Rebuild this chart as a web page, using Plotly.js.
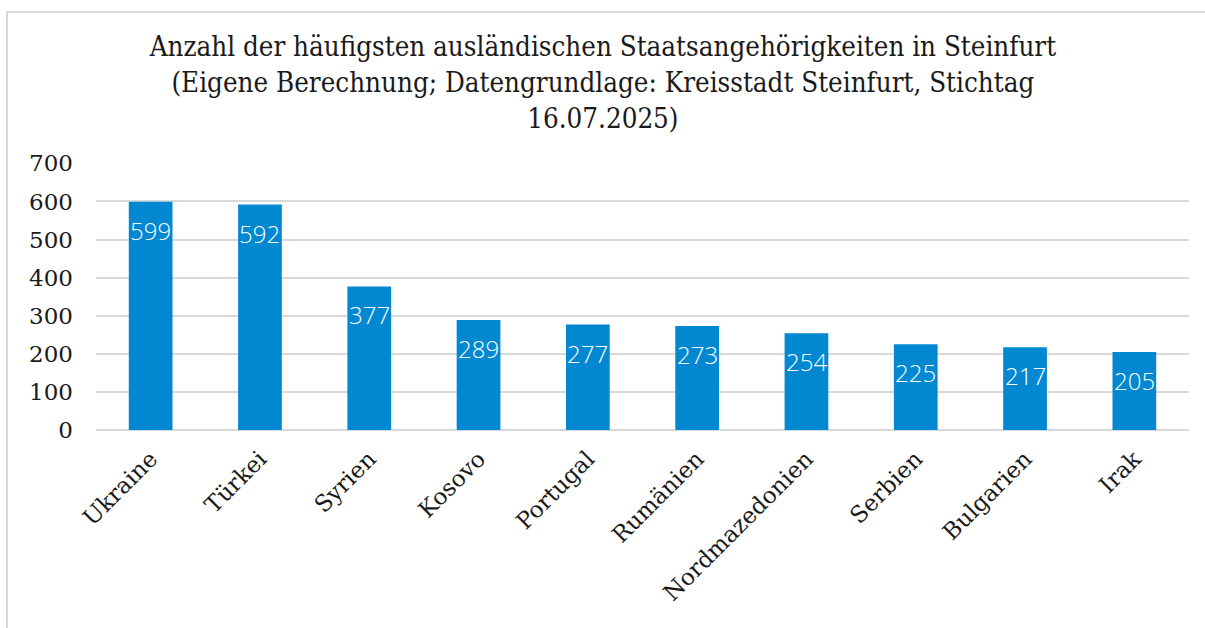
<!DOCTYPE html>
<html><head><meta charset="utf-8">
<script src="https://cdn.plot.ly/plotly-3.0.1.min.js"></script>
<style>
html,body{margin:0;padding:0;background:#fff;width:1205px;height:628px;overflow:hidden;}
#frame{position:absolute;left:6px;top:11px;width:1199px;height:617px;border-top:2px solid #d9d9d9;border-left:2px solid #d9d9d9;}
#chart{position:absolute;left:0;top:0;width:1197px;height:615px;}
#chart .titleann text{font-stretch:condensed !important;}
</style></head>
<body>
<div id="frame"><div id="chart"></div></div>
<script>
const categories = ["Ukraine","Türkei","Syrien","Kosovo","Portugal","Rumänien","Nordmazedonien","Serbien","Bulgarien","Irak"];
const values = [599,592,377,289,277,273,254,225,217,205];
const yTicks = [0,100,200,300,400,500,600,700];
const titleText = "Anzahl der häufigsten ausländischen Staatsangehörigkeiten in Steinfurt<br>(Eigene Berechnung; Datengrundlage: Kreisstadt Steinfurt, Stichtag<br>16.07.2025)";

const trace = {
  type: "bar",
  x: categories,
  y: values,
  marker: {color: "#0288d1", line: {width: 0}},
  hoverinfo: "none"
};

const annotations = categories.map((c, i) => ({
  x: c, y: values[i], xref: "x", yref: "y",
  text: String(values[i]), showarrow: false,
  yanchor: "top", yshift: -10,
  font: {family: "Open Sans, Noto Sans, sans-serif", weight: 300, size: 24, color: "#ffffff"}
}));
annotations.push({
  text: titleText, xref: "paper", yref: "paper", x: 0.5, y: 1,
  xanchor: "center", yanchor: "bottom", yshift: 27, xshift: -40, showarrow: false,
  font: {family: "DejaVu Serif, serif", size: 27.5, color: "#1a1a1a"}
});

const layout = {
  width: 1197, height: 615,
  margin: {l: 88, r: 16, t: 150, b: 198},
  paper_bgcolor: "#ffffff", plot_bgcolor: "#ffffff",
  bargap: 0.6,
  showlegend: false,
  xaxis: {
    type: "category",
    tickangle: -45,
    tickfont: {family: "DejaVu Serif, serif", size: 23, color: "#1a1a1a"},
    ticklabelstandoff: 10,
    showgrid: false, zeroline: false, showline: false, ticks: ""
  },
  yaxis: {
    range: [0, 701],
    tickvals: yTicks,
    ticktext: yTicks.map(String),
    tickfont: {family: "DejaVu Serif, serif", size: 23, color: "#1a1a1a"},
    ticklabelstandoff: 22,
    showgrid: true, gridcolor: "#d9d9d9", gridwidth: 2,
    zeroline: true, zerolinecolor: "#d9d9d9", zerolinewidth: 2,
    showline: false, ticks: ""
  },
  annotations: annotations
};

Plotly.newPlot("chart", [trace], layout, {staticPlot: true, displayModeBar: false}).then(() => {
  const anns = document.querySelectorAll("#chart .annotation");
  const last = anns[anns.length - 1];
  if (last) last.classList.add("titleann");
});
</script>
</body></html>
